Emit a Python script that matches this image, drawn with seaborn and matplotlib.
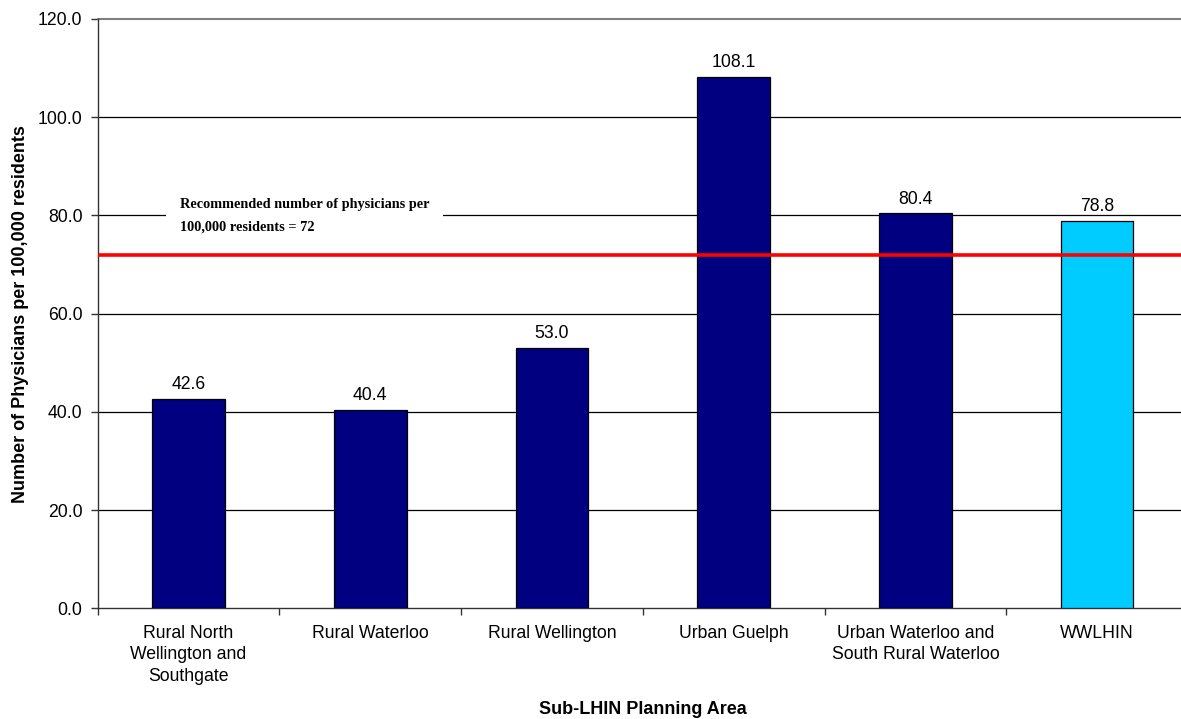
import matplotlib
matplotlib.use("Agg")
import matplotlib.pyplot as plt
import seaborn as sns
import pandas as pd

# Physician supply by planning area
areas = [
    "Rural North\nWellington and\nSouthgate",
    "Rural Waterloo",
    "Rural Wellington",
    "Urban Guelph",
    "Urban Waterloo and\nSouth Rural Waterloo",
    "WWLHIN",
]
physicians_per_100k = [42.6, 40.4, 53.0, 108.1, 80.4, 78.8]
bar_colors = ["#000080", "#000080", "#000080", "#000080", "#000080", "#00CCFF"]
recommended = 72
y_ticks = [0, 20, 40, 60, 80, 100, 120]

sns.set_style("white")
plt.rcParams["font.family"] = ["Liberation Sans", "DejaVu Sans"]
plt.rcParams["text.color"] = "black"
plt.rcParams["axes.labelcolor"] = "black"
plt.rcParams["xtick.color"] = "black"
plt.rcParams["ytick.color"] = "black"

df = pd.DataFrame({"area": areas, "value": physicians_per_100k})

fig = plt.figure(figsize=(11.81, 7.19), dpi=100)
ax = fig.add_axes([0.0827, 0.1537, 0.9232, 0.820])

sns.barplot(data=df, x="area", y="value", hue="area", palette=bar_colors,
            saturation=1, width=0.4, edgecolor="black", linewidth=0.9,
            legend=False, ax=ax, zorder=3)

ax.set_xlim(-0.5, len(areas) - 0.5)
ax.set_ylim(0, 120)
ax.set_yticks(y_ticks)
ax.set_yticklabels([f"{v:.1f}" for v in y_ticks])

# horizontal gridlines (top one doubles as the plot-area border)
for v in y_ticks[1:-1]:
    ax.axhline(v, color="black", linewidth=0.9, zorder=1)
ax.axhline(120, color="#808080", linewidth=1.5, zorder=1, clip_on=False)

# spines
for s in ["top", "right"]:
    ax.spines[s].set_visible(False)
ax.spines["left"].set_color("#333333")
ax.spines["bottom"].set_color("#333333")
ax.spines["left"].set_linewidth(1.0)
ax.spines["bottom"].set_linewidth(1.0)

# category ticks sit between the bars
ax.set_xticks([i - 0.5 for i in range(len(areas) + 1)], minor=True)
ax.tick_params(axis="x", which="major", length=0, pad=12, labelsize=12.7)
ax.tick_params(axis="x", which="minor", length=5, width=1, color="#333333",
               direction="out", bottom=True)
ax.tick_params(axis="y", which="major", length=5, width=1, color="#333333",
               direction="out", left=True, pad=6, labelsize=12.7)
for lbl in ax.get_xticklabels():
    lbl.set_linespacing(1.33)

# value labels
for i, v in enumerate(physicians_per_100k):
    ax.text(i, v + 1.2, f"{v:.1f}", ha="center", va="bottom", fontsize=12.7,
            color="black", zorder=4)

# recommended level
ax.axhline(recommended, color="#FF0000", linewidth=2.6, zorder=5)
ax.text(-0.047, 80.0,
        "Recommended number of physicians per\n100,000 residents = 72",
        family=["Liberation Serif", "DejaVu Serif"], fontweight="bold",
        fontsize=10.25, ha="left", va="center", linespacing=1.95, zorder=6,
        bbox=dict(facecolor="white", edgecolor="none", pad=10))

ax.set_xlabel("Sub-LHIN Planning Area", fontweight="bold", fontsize=13,
              labelpad=12)
ax.set_ylabel("Number of Physicians per 100,000 residents", fontweight="bold",
              fontsize=13, labelpad=6.5)

fig.savefig("out.png", dpi=100)
